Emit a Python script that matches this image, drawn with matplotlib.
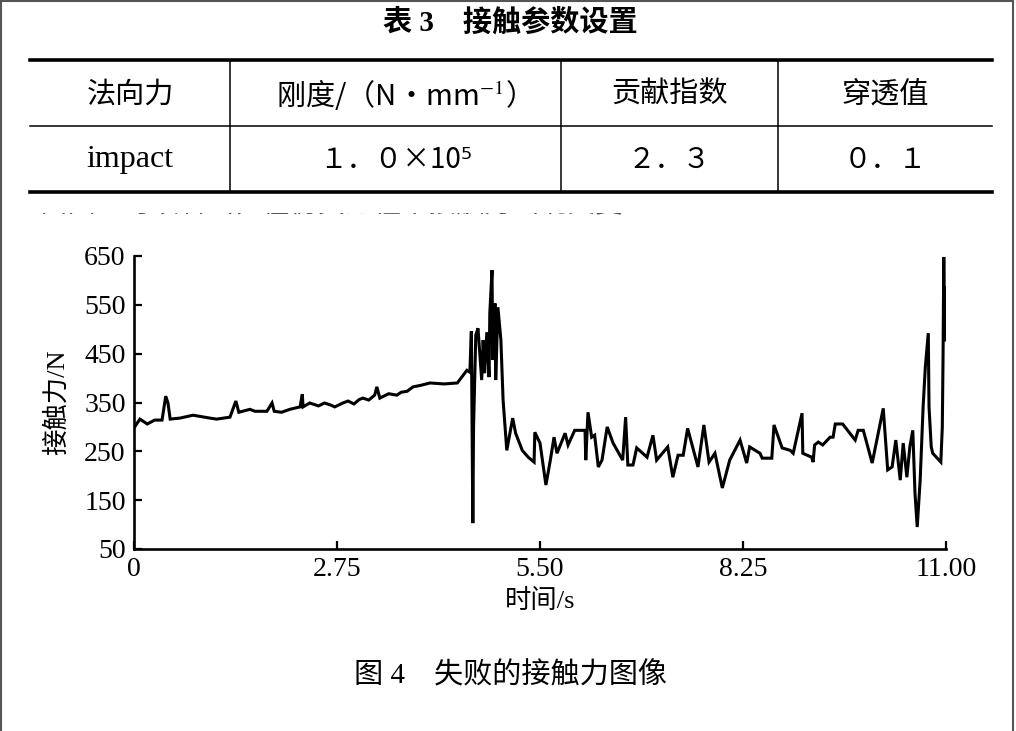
import matplotlib
matplotlib.use("Agg")
import matplotlib.pyplot as plt
from matplotlib.lines import Line2D
from matplotlib.patches import Rectangle

# ---------------- data ----------------
table_title = "表 3    接触参数设置"
table_header = ["法向力", "刚度/（N·mm$^{-1}$）", "贡献指数", "穿透值"]
table_row = ["impact", "１．０×10⁵", "２．３", "０．１"]

time_s = [0.00, 0.08, 0.18, 0.28, 0.38, 0.43, 0.46, 0.49, 0.62, 0.80, 1.03, 1.12, 1.30, 1.38,
          1.42, 1.57, 1.64, 1.80, 1.87, 1.90, 2.00, 2.11, 2.25, 2.28, 2.29, 2.38, 2.50, 2.58,
          2.66, 2.72, 2.83, 2.90, 2.98, 3.05, 3.10, 3.18, 3.26, 3.29, 3.33, 3.45, 3.56, 3.62,
          3.70, 3.78, 3.88, 4.01, 4.20, 4.38, 4.51, 4.55, 4.57, 4.58, 4.59, 4.60,
          4.63, 4.66, 4.71, 4.73, 4.75, 4.78, 4.81, 4.82, 4.85, 4.86, 4.89, 4.90, 4.93, 4.97,
          5.00, 5.05, 5.13, 5.17, 5.26, 5.34, 5.42, 5.43, 5.50, 5.58, 5.64, 5.69, 5.73, 5.84,
          5.88, 5.97, 6.11, 6.12, 6.15, 6.20, 6.24, 6.29, 6.34, 6.41, 6.49, 6.62, 6.66, 6.69,
          6.76, 6.81, 6.95, 7.03, 7.08, 7.23, 7.30, 7.37, 7.44, 7.50, 7.64, 7.72, 7.79, 7.87,
          7.97, 8.07, 8.21, 8.30, 8.34, 8.48, 8.51, 8.64, 8.67, 8.78, 8.89, 8.93, 9.05, 9.06,
          9.18, 9.20, 9.22, 9.27, 9.33, 9.43, 9.47, 9.50, 9.60, 9.77, 9.81, 9.88, 10.00, 10.15,
          10.21, 10.27, 10.32, 10.38, 10.42, 10.47, 10.51, 10.55, 10.58, 10.61, 10.65, 10.69,
          10.72, 10.76, 10.77, 10.80, 10.82, 10.93, 10.95, 10.96, 10.97, 10.98, 10.99, 11.00]
force_N = [298, 316, 306, 314, 314, 363, 349, 316, 318, 324, 318, 316, 320, 353,
           330, 336, 332, 332, 349, 332, 330, 336, 341, 367, 341, 349, 343, 349,
           345, 341, 349, 353, 347, 356, 359, 355, 365, 382, 359, 368, 365, 371,
           373, 382, 385, 390, 388, 390, 416, 412, 496, 298, 103, 300,
           488, 502, 396, 478, 410, 494, 402, 533, 621, 437, 553, 396, 545, 478,
           355, 252, 318, 287, 252, 238, 228, 289, 267, 181, 232, 279, 246, 287,
           263, 293, 293, 232, 330, 279, 283, 218, 232, 300, 267, 232, 320, 222,
           222, 257, 238, 283, 232, 259, 197, 242, 242, 297, 218, 304, 228, 246,
           175, 232, 273, 226, 259, 246, 236, 236, 304, 257, 252, 246, 328, 246,
           238, 228, 263, 269, 263, 279, 279, 306, 306, 273, 293, 293, 226, 338,
           212, 218, 273, 191, 267, 197, 259, 293, 164, 95, 191, 341,
           423, 492, 341, 259, 246, 228, 300, 443, 648, 478, 587, 478]

x_ticks = [0, 2.75, 5.50, 8.25, 11.00]
x_tick_labels = ["0", "2.75", "5.50", "8.25", "11.00"]
y_ticks = [50, 150, 250, 350, 450, 550, 650]
y_tick_labels = ["50", "150", "250", "350", "450", "550", "650"]
x_label = "时间/s"
y_label = "接触力/N"
caption = "图 4    失败的接触力图像"
cut_text = "由图 4 可以看出，在仿真过程中接触力出现突变"

# ---------------- style ----------------
W, H = 1016, 731
CJK = "Noto Sans CJK SC"
SERIF = "Liberation Serif"
plt.rcParams["mathtext.fontset"] = "stix"
plt.rcParams["font.family"] = [SERIF, CJK, "DejaVu Sans"]


def fx(px):
    return px / W


def fy(py):
    return 1 - py / H


fig = plt.figure(figsize=(W / 100, H / 100), dpi=100, facecolor="white")

# frame of the scanned page
for xs, ys in [((1, 1), (0, H)), ((1, W - 3), (1, 1)), ((W - 3, W - 3), (0, H))]:
    fig.add_artist(Line2D([fx(xs[0]), fx(xs[1])], [fy(ys[0]), fy(ys[1])],
                          transform=fig.transFigure, color="#555555", lw=1.5))

# ---------------- table ----------------
fig.text(fx(510), fy(22), table_title, ha="center", va="center", fontsize=21,
         fontweight="bold", family=[SERIF, CJK])

col_edges = [30, 230, 561, 778, 992]
for y, lw in [(60, 2.6), (126, 1.1), (192, 2.6)]:
    fig.add_artist(Line2D([fx(col_edges[0]), fx(col_edges[-1])], [fy(y), fy(y)],
                          transform=fig.transFigure, color="black", lw=lw))
for xe in col_edges[1:-1]:
    fig.add_artist(Line2D([fx(xe), fx(xe)], [fy(60), fy(192)],
                          transform=fig.transFigure, color="black", lw=1.1))

for i, (h, r) in enumerate(zip(table_header, table_row)):
    cx = (col_edges[i] + col_edges[i + 1]) / 2
    fig.text(fx(cx), fy(95), h, ha="center", va="center", fontsize=21,
             family=[CJK, "DejaVu Sans"])
    if i == 0:
        fig.text(fx(cx), fy(160), r, ha="center", va="center", fontsize=23,
                 family=[SERIF, CJK])
    else:
        fig.text(fx(cx), fy(160), r, ha="center", va="center", fontsize=20,
                 family=[CJK, "DejaVu Sans"])

# cut-off line of the next paragraph (only its lower edge is visible)
t = fig.text(fx(40), fy(205), cut_text, ha="left", va="center", fontsize=20,
             family=[SERIF, CJK], color="#555555")
clip = Rectangle((0, fy(219)), 1, fy(213) - fy(219), transform=fig.transFigure,
                 visible=False)
fig.add_artist(clip)
t.set_clip_path(clip)

# ---------------- chart ----------------
ax = fig.add_axes([fx(134), fy(549), fx(946) - fx(134), fy(256) - fy(549)])
ax.plot(time_s, force_N, color="black", lw=2.2, solid_joinstyle="miter")
ax.set_xlim(0, 11)
ax.set_ylim(50, 650)
ax.set_xticks(x_ticks)
ax.set_xticklabels(x_tick_labels)
ax.set_yticks(y_ticks)
ax.set_yticklabels(y_tick_labels)
for s in ["top", "right"]:
    ax.spines[s].set_visible(False)
for s in ["left", "bottom"]:
    ax.spines[s].set_linewidth(1.9)
ax.tick_params(direction="in", length=6, width=1.6, labelsize=20, pad=6,
               colors="black")
for lab in ax.get_xticklabels() + ax.get_yticklabels():
    lab.set_family(SERIF)

ax.set_xlabel(x_label, fontsize=19, family=[SERIF, CJK])
ax.xaxis.set_label_coords(0.5, -0.135)
ax.set_ylabel(y_label, fontsize=19, family=[SERIF, CJK])
ax.yaxis.set_label_coords(-0.08, 0.5)

# ---------------- caption ----------------
fig.text(fx(511), fy(676), caption, ha="center", va="center", fontsize=21,
         family=[SERIF, CJK])

fig.savefig("out.png", dpi=100, facecolor="white")
